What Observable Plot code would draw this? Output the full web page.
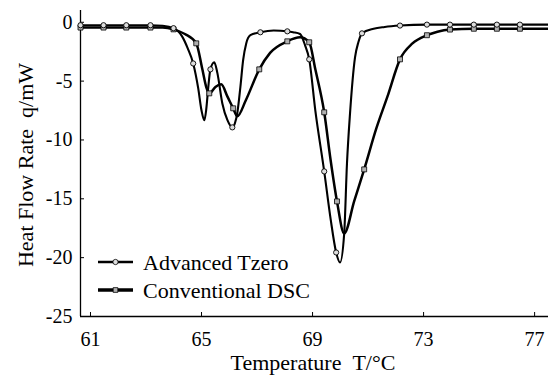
<!DOCTYPE html>
<html>
<head>
<meta charset="utf-8">
<script src="https://cdn.jsdelivr.net/npm/d3@7"></script>
<script src="https://cdn.jsdelivr.net/npm/@observablehq/plot@0.6"></script>
<style>
  html, body { margin: 0; padding: 0; background: #fff; }
  #chart { width: 548px; height: 380px; }
</style>
</head>
<body>
<div id="chart"></div>
<script>
// ---- Data ----
const seriesNames = ["Advanced Tzero", "Conventional DSC"];

const tzeroT = [60.64, 61.47, 62.29, 63.16, 63.6, 63.99, 64.3, 64.5, 64.70, 64.88, 65.0, 65.10, 65.17, 65.24, 65.32, 65.46, 65.57, 65.75, 65.93, 66.11, 66.2, 66.29, 66.40, 66.50, 66.61, 66.76, 67.12, 67.6, 68.09, 68.3, 68.55, 68.73, 68.88, 69.1, 69.42, 69.65, 69.85, 69.99, 70.14, 70.24, 70.35, 70.53, 70.65, 70.78, 71.2, 71.6, 72.15, 73.12, 73.95, 74.81, 75.64, 76.47, 77.5];
const tzeroQ = [-0.25, -0.25, -0.25, -0.25, -0.3, -0.5, -1.2, -2.2, -3.5, -5.6, -7.5, -8.33, -7.4, -5.6, -4.0, -3.4, -4.3, -6.9, -8.3, -8.93, -8.6, -7.7, -5.5, -3.2, -1.8, -1.1, -0.85, -0.7, -0.77, -0.85, -1.0, -1.96, -3.15, -7.5, -12.67, -16.7, -19.56, -20.41, -17.94, -12.0, -7.74, -2.98, -1.7, -0.94, -0.55, -0.4, -0.28, -0.2, -0.2, -0.2, -0.2, -0.2, -0.2];
const tzeroMarkerT = [60.64, 61.47, 62.29, 63.16, 63.99, 64.70, 65.32, 66.11, 67.12, 68.09, 68.88, 69.42, 69.85, 70.78, 72.15, 73.12, 73.95, 74.81, 75.64, 76.47];

const convT = [60.64, 61.47, 62.29, 63.16, 63.6, 63.99, 64.4, 64.81, 65.03, 65.17, 65.28, 65.5, 65.71, 65.93, 66.14, 66.29, 66.6, 67.08, 67.47, 68.09, 68.55, 68.88, 69.1, 69.42, 69.65, 69.88, 70.14, 70.5, 70.86, 71.3, 71.7, 72.15, 72.6, 73.12, 73.5, 73.95, 74.81, 75.64, 76.47, 77.5];
const convQ = [-0.45, -0.45, -0.45, -0.45, -0.45, -0.6, -1.0, -1.79, -4.0, -5.5, -6.04, -5.5, -5.27, -6.3, -7.31, -7.99, -6.6, -4.0, -2.6, -1.62, -1.28, -1.7, -4.0, -7.65, -11.7, -15.22, -17.94, -15.2, -12.5, -9.0, -6.3, -3.15, -1.8, -1.1, -0.8, -0.62, -0.55, -0.55, -0.55, -0.55];
const convMarkerT = [60.64, 61.47, 62.29, 63.16, 63.99, 64.81, 65.28, 66.14, 67.08, 68.09, 68.88, 69.42, 69.88, 70.86, 72.15, 73.12, 73.95, 74.81, 75.64, 76.47];

const xTicks = [61, 65, 69, 73, 77];
const yTicks = [0, -5, -10, -15, -20, -25];
const xLabel = "Temperature\u00a0\u00a0T/°C";
const yLabel = "Heat Flow Rate\u00a0\u00a0q/mW";

// ---- Build tables ----
const tzero = tzeroT.map((t, i) => ({T: t, q: tzeroQ[i]}));
const conv = convT.map((t, i) => ({T: t, q: convQ[i]}));
const tzeroMarks = tzero.filter(d => tzeroMarkerT.includes(d.T));
const convMarks = conv.filter(d => convMarkerT.includes(d.T));

const FONT = "Liberation Serif";
const xDomain = [60.64, 77.5];
const yDomain = [-25, 1];

const chart = Plot.plot({
  width: 548,
  height: 380,
  marginLeft: 80,
  marginRight: 0,
  marginTop: 10,
  marginBottom: 64,
  x: {domain: xDomain},
  y: {domain: yDomain},
  style: {fontSize: "20px", color: "black", background: "white", overflow: "visible"},
  marks: [
    Plot.ruleX([xDomain[0]], {stroke: "black", strokeWidth: 1.3}),
    Plot.ruleY([yDomain[0]], {stroke: "black", strokeWidth: 1.3}),
    Plot.axisX({ticks: xTicks, tickSize: -4, tickPadding: 19, tickFormat: d => String(d), label: null, fontSize: 20}),
    Plot.axisY({ticks: yTicks, tickSize: -4, tickPadding: 12, tickFormat: d => String(d), label: null, fontSize: 20}),
    Plot.line(conv, {x: "T", y: "q", curve: "monotone-x", stroke: "black", strokeWidth: 2.5}),
    Plot.line(tzero, {x: "T", y: "q", curve: "monotone-x", stroke: "black", strokeWidth: 2.1}),
    Plot.dot(convMarks, {x: "T", y: "q", symbol: "square", r: 2.8, fill: "#b0b0b0", stroke: "black", strokeWidth: 0.8}),
    Plot.dot(tzeroMarks, {x: "T", y: "q", symbol: "circle", r: 2.6, fill: "#dddddd", stroke: "black", strokeWidth: 0.9})
  ]
});
document.getElementById("chart").appendChild(chart);

// ---- Axis titles and in-plot legend ----
const svg = d3.select(chart);
svg.append("text")
  .attr("x", 313).attr("y", 370)
  .attr("text-anchor", "middle")
  .attr("font-size", 22).attr("fill", "black")
  .text(xLabel);
svg.append("text")
  .attr("transform", "translate(33,165) rotate(-90)")
  .attr("text-anchor", "middle")
  .attr("font-size", 22).attr("fill", "black")
  .text(yLabel);

const legendRows = [
  {name: seriesNames[0], y: 262, sym: d3.symbolCircle, size: 22, fill: "#dddddd", w: 2.4},
  {name: seriesNames[1], y: 290, sym: d3.symbolSquare, size: 22, fill: "#b0b0b0", w: 3.4}
];
const lg = svg.append("g");
legendRows.forEach(r => {
  lg.append("line").attr("x1", 98).attr("x2", 133).attr("y1", r.y).attr("y2", r.y)
    .attr("stroke", "black").attr("stroke-width", r.w);
  lg.append("path").attr("d", d3.symbol(r.sym, r.size)())
    .attr("transform", `translate(115.5,${r.y})`)
    .attr("fill", r.fill).attr("stroke", "black").attr("stroke-width", 0.8);
  lg.append("text").attr("x", 143).attr("y", r.y).attr("dy", "0.35em")
    .attr("text-anchor", "start")
    .attr("font-size", 22).attr("fill", "black")
    .text(r.name);
});

// Force the serif face on every text element (inline style wins over Plot's class styles)
svg.attr("font-family", FONT).style("font-family", FONT);
svg.selectAll("text").attr("font-family", FONT).style("font-family", FONT);
svg.selectAll("g").style("font-family", FONT);
</script>
</body>
</html>
